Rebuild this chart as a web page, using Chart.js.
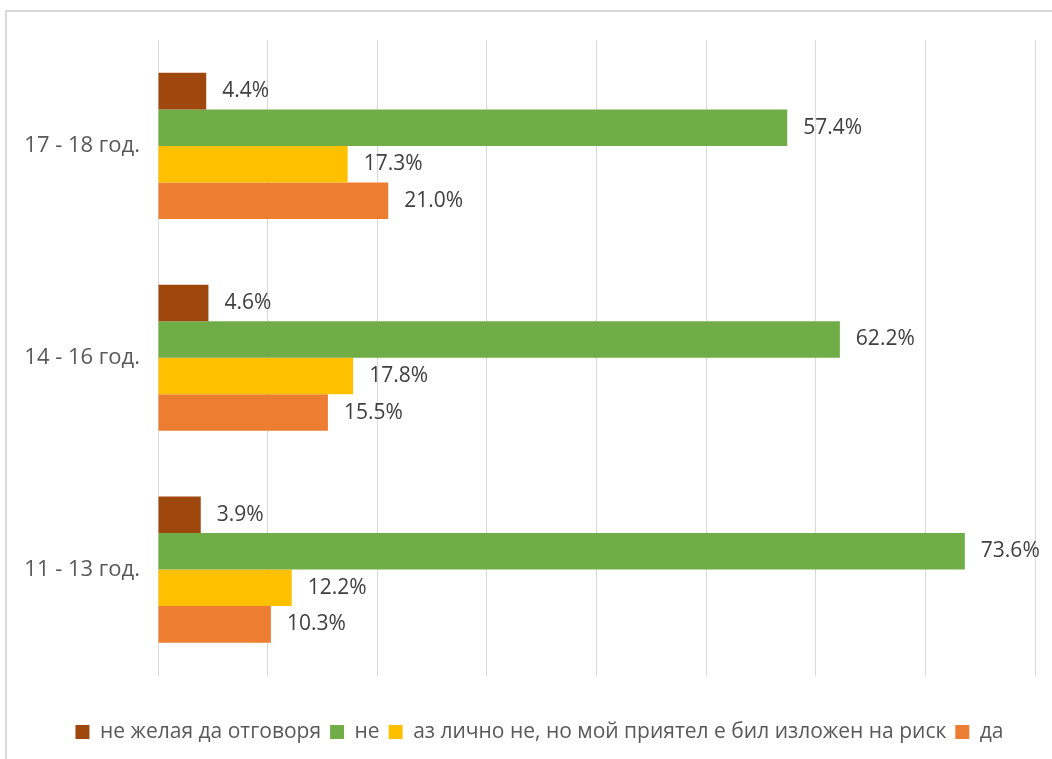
<!DOCTYPE html>
<html>
<head>
<meta charset="utf-8">
<script src="https://cdn.jsdelivr.net/npm/chart.js@4"></script>
<style>
  html, body { margin: 0; padding: 0; background: #fff; overflow: hidden; }
  #wrap { position: relative; width: 1079px; height: 780px; }
  #frame { position: absolute; left: 5px; top: 10px; width: 1200px; height: 900px;
           border: 2px solid #d9d9d9; box-sizing: border-box; pointer-events: none; }
</style>
</head>
<body>
<div id="wrap">
  <canvas id="chart" width="1079" height="780"></canvas>
  <div id="frame"></div>
</div>
<script>
// categories, top to bottom
const ageGroups = ['17 - 18 год.', '14 - 16 год.', '11 - 13 год.'];

// answers (legend order)
const seriesNames = [
    'не желая да отговоря',
    'не',
    'аз лично не, но мой приятел е бил изложен на риск',
    'да'
];

// percentages per age group
const noAnswer = [4.4, 4.6, 3.9];
const no = [57.4, 62.2, 73.6];
const friendAtRisk = [17.3, 17.8, 12.2];
const yes = [21.0, 15.5, 10.3];

const COLORS = ['#9E480E', '#70AD47', '#FFC000', '#ED7D31'];
const FONT = '"Open Sans", "Noto Sans", sans-serif';

// value labels to the right of each bar
const barLabels = {
    id: 'barLabels',
    afterDatasetsDraw(chart) {
        const ctx = chart.ctx;
        ctx.save();
        ctx.font = '21px ' + FONT;
        ctx.fillStyle = '#404040';
        ctx.textAlign = 'left';
        ctx.textBaseline = 'middle';
        chart.data.datasets.forEach((ds, i) => {
            const meta = chart.getDatasetMeta(i);
            meta.data.forEach((bar, j) => {
                ctx.fillText(ds.data[j].toFixed(1) + '%', bar.x + 16, bar.y);
            });
        });
        ctx.restore();
    }
};

// the legend sits centred under the whole frame, not the canvas
const legendShift = {
    id: 'legendShift',
    afterLayout(chart) {
        if (chart.legend) chart.legend.left += 44;
    }
};

const allSeries = [noAnswer, no, friendAtRisk, yes];

new Chart(document.getElementById('chart'), {
    type: 'bar',
    data: {
        labels: ageGroups,
        datasets: allSeries.map((vals, i) => ({
            label: seriesNames[i],
            data: vals,
            backgroundColor: COLORS[i],
            borderWidth: 0,
            categoryPercentage: 0.69,
            barPercentage: 1
        }))
    },
    options: {
        indexAxis: 'y',
        responsive: false,
        animation: false,
        layout: { padding: { top: 40, right: 44, bottom: 27.5, left: 0 } },
        scales: {
            x: {
                min: 0,
                max: 80,
                ticks: { display: false, stepSize: 10 },
                grid: { color: '#d9d9d9', lineWidth: 1, drawTicks: false },
                border: { display: false },
                afterFit(scale) { scale.height = 37; }
            },
            y: {
                grid: { display: false, drawTicks: false },
                border: { display: false },
                ticks: { color: '#595959', font: { family: FONT, size: 22 }, padding: 18 },
                afterFit(scale) { scale.width = 158; }
            }
        },
        plugins: {
            legend: {
                position: 'bottom',
                labels: {
                    color: '#595959',
                    font: { family: FONT, size: 21 },
                    boxWidth: 14,
                    boxHeight: 14,
                    padding: 9
                }
            },
            tooltip: { enabled: false }
        }
    },
    plugins: [barLabels, legendShift]
});
</script>
</body>
</html>
